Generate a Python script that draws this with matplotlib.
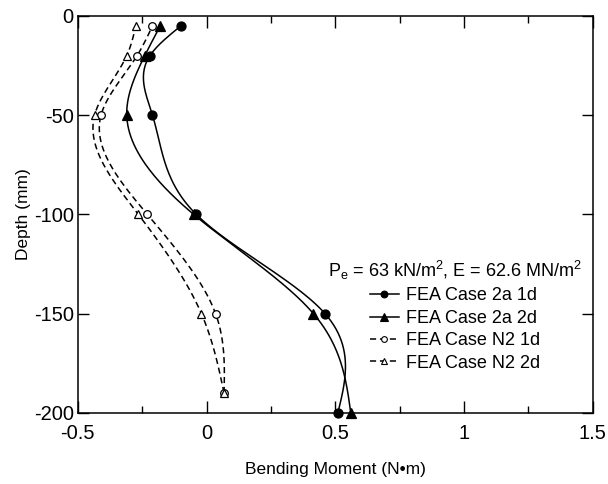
import numpy as np
import matplotlib
matplotlib.use("Agg")
import matplotlib.pyplot as plt
from matplotlib.lines import Line2D
from matplotlib.ticker import MultipleLocator, FuncFormatter

plt.rcParams.update({"font.family": "Liberation Sans", "mathtext.fontset": "custom",
                     "mathtext.rm": "Liberation Sans", "mathtext.it": "Liberation Sans:italic",
                     "axes.unicode_minus": False})

# depth (mm) and bending moment (N*m) at each gauge
depth_2a = [-5, -20, -50, -100, -150, -200]
bm_2a_1d = [-0.10, -0.22, -0.21, -0.04, 0.46, 0.51]
bm_2a_2d = [-0.18, -0.24, -0.31, -0.05, 0.415, 0.56]
depth_n2 = [-5, -20, -50, -100, -150, -190]
bm_n2_1d = [-0.21, -0.27, -0.41, -0.23, 0.035, 0.068]
bm_n2_2d = [-0.275, -0.31, -0.435, -0.265, -0.02, 0.068]
labels = ["FEA Case 2a 1d", "FEA Case 2a 2d", "FEA Case N2 1d", "FEA Case N2 2d"]


def natural_spline(y, x, n=200):
    """Natural cubic spline x(y) through the given points."""
    y = np.asarray(y, float)[::-1]; x = np.asarray(x, float)[::-1]
    k = len(y); h = np.diff(y)
    A = np.zeros((k, k)); b = np.zeros(k)
    A[0, 0] = A[-1, -1] = 1
    for i in range(1, k - 1):
        A[i, i - 1] = h[i - 1]; A[i, i] = 2 * (h[i - 1] + h[i]); A[i, i + 1] = h[i]
        b[i] = 6 * ((x[i + 1] - x[i]) / h[i] - (x[i] - x[i - 1]) / h[i - 1])
    M = np.linalg.solve(A, b)
    yy = np.linspace(y[0], y[-1], n); xx = np.empty_like(yy)
    for j, t in enumerate(yy):
        i = min(np.searchsorted(y, t, side="right") - 1, k - 2)
        a, c = y[i + 1] - t, t - y[i]
        xx[j] = (M[i] * a**3 + M[i + 1] * c**3) / (6 * h[i]) \
            + (x[i] / h[i] - M[i] * h[i] / 6) * a + (x[i + 1] / h[i] - M[i + 1] * h[i] / 6) * c
    return xx, yy


fig = plt.figure(figsize=(6.08, 4.84), dpi=100)
ax = fig.add_axes([0.128, 0.147, 0.847, 0.820])

dash = (0, (4, 2.5))
series = [(depth_2a, bm_2a_1d, "o", "black", "-", 6.5),
          (depth_2a, bm_2a_2d, "^", "black", "-", 7),
          (depth_n2, bm_n2_1d, "o", "white", dash, 5.5),
          (depth_n2, bm_n2_2d, "^", "white", dash, 6)]
handles = []
for (d, m, mk, fc, ls, ms), lab in zip(series, labels):
    xs, ys = natural_spline(d, m)
    ax.plot(xs, ys, color="black", lw=1.1, ls=ls)
    ax.plot(m, d, ls="none", marker=mk, ms=ms, mfc=fc, mec="black", mew=0.9, clip_on=False, zorder=3)
    handles.append(Line2D([], [], color="black", lw=1.1, ls=ls, marker=mk, ms=ms * 0.75,
                          mfc=fc, mec="black", mew=0.8))

ax.set_xlim(-0.5, 1.5)
ax.set_ylim(-200, 0)
plain = FuncFormatter(lambda v, _: f"{v:g}")
ax.xaxis.set_major_locator(MultipleLocator(0.5))
ax.xaxis.set_minor_locator(MultipleLocator(0.25))
ax.xaxis.set_major_formatter(plain)
ax.yaxis.set_major_locator(MultipleLocator(50))
ax.yaxis.set_major_formatter(plain)
ax.tick_params(axis="x", which="major", direction="in", length=8.5, width=1, top=True, labelsize=14.5, pad=8)
ax.tick_params(axis="x", which="minor", direction="in", length=5, width=1, top=True)
ax.tick_params(axis="y", direction="in", length=8, width=1, right=True, labelsize=14.5, pad=3)
for s in ax.spines.values():
    s.set_linewidth(1.1)
ax.set_xlabel("Bending Moment (N\u2022m)", fontsize=12.5, labelpad=14)
ax.set_ylabel("Depth (mm)", fontsize=12.5, labelpad=2)

leg = ax.legend(handles, labels, title="P$_\\mathrm{e}$ = 63 kN/m$^2$, E = 62.6 MN/m$^2$",
                loc="upper right", bbox_to_anchor=(1.0, 0.415), frameon=False, fontsize=13,
                title_fontsize=13, handlelength=1.6, handletextpad=0.4, labelspacing=0.3,
                borderaxespad=0.2)

fig.savefig("out.png", dpi=100)
